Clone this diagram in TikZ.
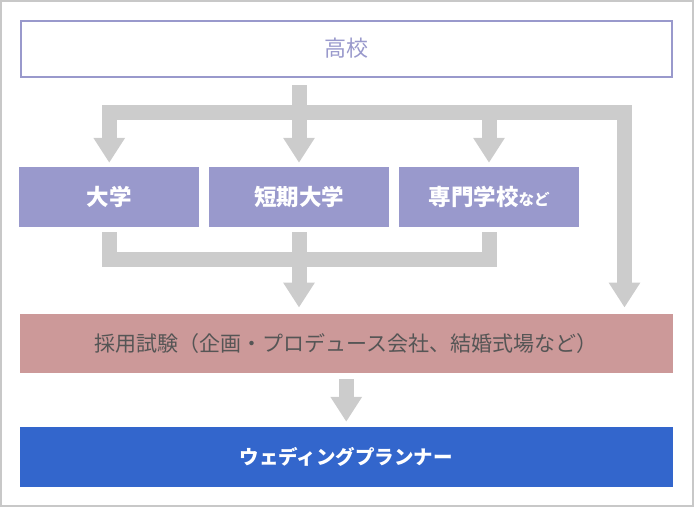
\documentclass[tikz,border=0pt]{standalone}
\usepackage{fontspec}
\setmainfont{Noto Sans CJK JP}
\usetikzlibrary{arrows.meta,calc}
\definecolor{lav}{HTML}{9999CC}
\definecolor{rose}{HTML}{CC9999}
\definecolor{blu}{HTML}{3366CC}
\definecolor{gr}{HTML}{CCCCCC}
\definecolor{framec}{HTML}{C8C8C8}
\definecolor{txt}{HTML}{555555}
\tikzset{
  bx/.style={inner sep=0pt, anchor=center},
  topbox/.style={bx, draw=lav, line width=2pt, fill=white, minimum width=651pt, minimum height=56pt, text=lav, font=\fontsize{22}{26}\selectfont},
  midbox/.style={bx, fill=lav, minimum width=180pt, minimum height=60pt, text=white, font=\bfseries\fontsize{22.5}{26}\selectfont},
  widebox/.style={bx, minimum width=653.5pt, minimum height=59.5pt},
  gline/.style={draw=gr, line width=15pt, line cap=butt, line join=miter},
  garrow/.style={gline, -{Triangle[width=30pt,length=25pt]}}
}
\begin{document}
\begin{tikzpicture}[x=1pt,y=-1pt]
\useasboundingbox (0,0) rectangle (694,507);
\draw[framec, line width=2pt] (1,1) rectangle (693,506);

\node[topbox] (koko) at (346.5,48.5) {\raisebox{-1.5pt}{高校}};
\node[midbox] (daigaku) at (109.25,197) {大学};
\node[midbox] (tandai) at (299,197) {短期大学};
\node[midbox] (senmon) at (489,197) {専門学校{\fontsize{15.5}{18}\selectfont など}};
\node[widebox, fill=rose, text=txt, font=\fontsize{21}{24}\selectfont] (saiyo) at (346.25,343.5) {\raisebox{-1pt}{採用試験（企画・プロデュース会社、結婚式場など）}};
\node[widebox, minimum height=60pt, fill=blu, text=white, font=\bfseries\fontsize{19.5}{23}\selectfont] (wp) at (346.25,457) {\raisebox{-1pt}{ウェディングプランナー}};

\coordinate (s0) at ($(tandai.north |- koko.south)+(0,7.5)$);
\coordinate (bar) at ($(s0)+(0,27.5)$);
\coordinate (far) at (624.5,111.5);
\coordinate (s1) at ($(tandai.south)+(0,5)$);
\coordinate (bar2) at ($(s1)+(0,27.5)$);

% top distribution
\draw[gline, {Triangle[width=30pt,length=25pt]}-{Triangle[width=30pt,length=25pt]}]
  ([yshift=4pt]daigaku.north) -- (daigaku.north |- bar) -- (far |- bar) -- ([yshift=6pt]saiyo.north -| far);
\draw[garrow] (s0) -- ([yshift=4pt]tandai.north);
\draw[garrow] (senmon.north |- bar) -- ([yshift=4pt]senmon.north);

% bottom merge
\draw[gline] ([yshift=-5pt]daigaku.south) -- (daigaku.south |- bar2) -- (senmon.south |- bar2) -- ([yshift=-5pt]senmon.south);
\draw[garrow] (s1) -- ([yshift=6pt]saiyo.north -| tandai.south);

% to planner
\draw[garrow] ([yshift=-6pt]saiyo.south) -- ([yshift=5pt]wp.north);
\end{tikzpicture}
\end{document}
